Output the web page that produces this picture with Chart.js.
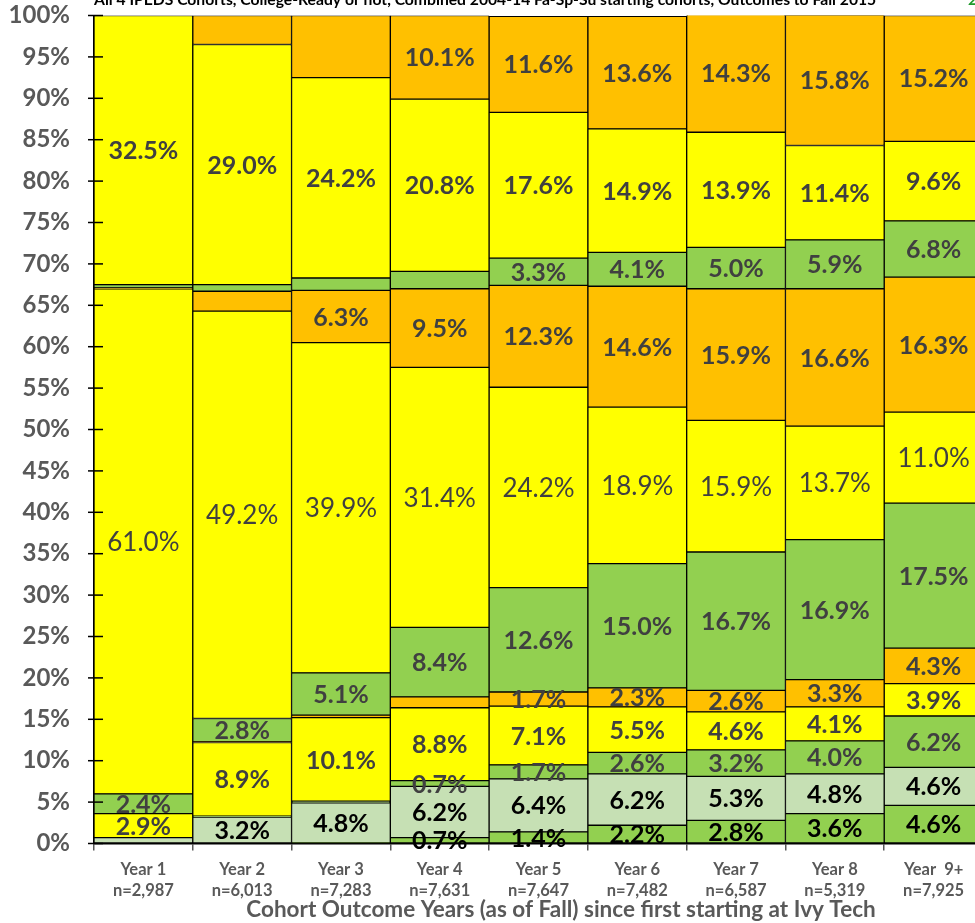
<!DOCTYPE html>
<html>
<head>
<meta charset="utf-8">
<script src="https://cdn.jsdelivr.net/npm/chart.js@4/dist/chart.umd.min.js"></script>
<style>
  html, body { margin: 0; padding: 0; background: #fff; overflow: hidden; }
  canvas { display: block; }
</style>
</head>
<body>
<canvas id="chart" width="990" height="923"></canvas>
<script>
// Cohort years (with cohort sizes) along the x axis
const years = [
  ["Year 1", "n=2,987"], ["Year 2", "n=6,013"], ["Year 3", "n=7,283"],
  ["Year 4", "n=7,631"], ["Year 5", "n=7,647"], ["Year 6", "n=7,482"],
  ["Year 7", "n=6,587"], ["Year 8", "n=5,319"], ["Year  9+", "n=7,925"]
];

// Stack segments, bottom to top (percent of cohort)
const seg01 = [0, 0, 0.1, 0.7, 1.4, 2.2, 2.8, 3.6, 4.6];
const seg02 = [0.7, 3.2, 4.8, 6.2, 6.4, 6.2, 5.3, 4.8, 4.6];
const seg03 = [0, 0.1, 0.2, 0.7, 1.7, 2.6, 3.2, 4.0, 6.2];
const seg04 = [2.9, 8.9, 10.1, 8.8, 7.1, 5.5, 4.6, 4.1, 3.9];
const seg05 = [0, 0.1, 0.3, 1.3, 1.7, 2.3, 2.6, 3.3, 4.3];
const seg06 = [2.4, 2.8, 5.1, 8.4, 12.6, 15.0, 16.7, 16.9, 17.5];
const seg07 = [61.0, 49.2, 39.9, 31.4, 24.2, 18.9, 15.9, 13.7, 11.0];
const seg08 = [0.1, 2.4, 6.3, 9.5, 12.3, 14.6, 15.9, 16.6, 16.3];
const seg09 = [0.4, 0.8, 1.5, 2.1, 3.3, 4.1, 5.0, 5.9, 6.8];
const seg10 = [32.5, 29.0, 24.2, 20.8, 17.6, 14.9, 13.9, 11.4, 9.6];
const seg11 = [0, 3.5, 7.5, 10.1, 11.6, 13.6, 14.3, 15.8, 15.2];

// Year indexes whose segment carries no value label
const quiet01 = [0, 1, 2];
const quiet02 = [0];
const quiet03 = [0, 1, 2];
const quiet04 = [];
const quiet05 = [0, 1, 2, 3];
const quiet06 = [];
const quiet07 = [];
const quiet08 = [0, 1];
const quiet09 = [0, 1, 2, 3];
const quiet10 = [];
const quiet11 = [0, 1, 2];

const yTicks = { min: 0, max: 100, step: 5 };

const FONT = 'Lato, "Open Sans", "DejaVu Sans", sans-serif';
const GREEN = '#92D050', LIGHT = '#C6E0B4', YELLOW = '#FFFF00', ORANGE = '#FFC000';
const GREY = '#404040';

function seg(name, data, color, quiet, labelColor, weight) {
  return {
    label: name, data, backgroundColor: color, borderColor: '#000',
    borderWidth: 1, borderSkipped: false,
    quiet, labelColor, labelWeight: weight
  };
}

const datasets = [
  seg('Segment 1', seg01, GREEN, quiet01, '#000', 'bold'),
  seg('Segment 2', seg02, LIGHT, quiet02, '#000', 'bold'),
  seg('Segment 3', seg03, GREEN, quiet03, GREY, 'bold'),
  seg('Segment 4', seg04, YELLOW, quiet04, GREY, 'bold'),
  seg('Segment 5', seg05, ORANGE, quiet05, GREY, 'bold'),
  seg('Segment 6', seg06, GREEN, quiet06, GREY, 'bold'),
  seg('Segment 7', seg07, YELLOW, quiet07, GREY, 'normal'),
  seg('Segment 8', seg08, ORANGE, quiet08, GREY, 'bold'),
  seg('Segment 9', seg09, GREEN, quiet09, GREY, 'bold'),
  seg('Segment 10', seg10, YELLOW, quiet10, GREY, 'bold'),
  seg('Segment 11', seg11, ORANGE, quiet11, GREY, 'bold')
];

// Value labels centred in each segment
const segmentLabels = {
  id: 'segmentLabels',
  afterDatasetsDraw(chart) {
    const ctx = chart.ctx;
    ctx.save();
    ctx.textAlign = 'center';
    ctx.textBaseline = 'middle';
    chart.data.datasets.forEach((ds, i) => {
      const meta = chart.getDatasetMeta(i);
      ctx.font = ds.labelWeight === 'normal' ? `normal 26px ${FONT}` : `bold 25px ${FONT}`;
      ctx.fillStyle = ds.labelColor;
      meta.data.forEach((bar, j) => {
        if (ds.quiet.includes(j)) return;
        const { x, y, base } = bar.getProps(['x', 'y', 'base'], true);
        ctx.fillText(ds.data[j].toFixed(1) + '%', x, (y + base) / 2 + 1);
      });
    });
    ctx.restore();
  }
};

// Cross-style y tick marks straddling the axis line
const crossTicks = {
  id: 'crossTicks',
  afterDatasetsDraw(chart) {
    const { ctx, chartArea, scales } = chart;
    const y = scales.y;
    ctx.save();
    ctx.strokeStyle = '#000';
    ctx.lineWidth = 1.5;
    y.ticks.forEach(t => {
      const py = y.getPixelForValue(t.value);
      ctx.beginPath();
      ctx.moveTo(chartArea.left - 6, py);
      ctx.lineTo(chartArea.left + 9, py);
      ctx.stroke();
    });
    ctx.restore();
  }
};

// Heading and x axis title
const captions = {
  id: 'captions',
  afterDraw(chart) {
    const ctx = chart.ctx;
    ctx.save();
    ctx.textBaseline = 'alphabetic';
    ctx.textAlign = 'left';
    ctx.fillStyle = '#000';
    ctx.font = `bold 15.7px ${FONT}`;
    ctx.fillText('All 4 IPEDS Cohorts, College-Ready or not, Combined 2004-14 Fa-Sp-Su starting cohorts, Outcomes to Fall 2015', 94, 5);
    ctx.fillStyle = '#1E9A2A';
    ctx.fillText('2', 968, 5);
    ctx.textAlign = 'center';
    ctx.textBaseline = 'middle';
    ctx.fillStyle = '#595959';
    ctx.font = `bold 22.5px ${FONT}`;
    ctx.fillText('Cohort Outcome Years (as of Fall) since first starting at Ivy Tech', 561, 910);
    ctx.restore();
  }
};

new Chart(document.getElementById('chart'), {
  type: 'bar',
  data: { labels: years, datasets },
  options: {
    responsive: false,
    animation: false,
    devicePixelRatio: 1,
    categoryPercentage: 1,
    barPercentage: 1,
    layout: { padding: { top: 15.5, right: 7, bottom: 0, left: 0 } },
    plugins: { legend: { display: false }, tooltip: { enabled: false }, title: { display: false } },
    scales: {
      x: {
        stacked: true,
        grid: { offset: true, drawOnChartArea: false, drawTicks: true, tickLength: 7, color: '#595959', lineWidth: 1.5 },
        border: { display: true, color: '#000', width: 1.5 },
        ticks: {
          color: '#595959', autoSkip: false, maxRotation: 0, padding: 8,
          font: { family: FONT, size: 16.5, weight: 'bold', lineHeight: 1.3 }
        },
        afterFit(scale) { scale.height = 79.5; }
      },
      y: {
        stacked: true,
        min: yTicks.min, max: yTicks.max,
        grid: { drawOnChartArea: false, drawTicks: true, tickLength: 24, color: 'rgba(0,0,0,0)' },
        border: { display: true, color: '#000', width: 2 },
        ticks: {
          stepSize: yTicks.step, color: '#595959', padding: 0,
          font: { family: FONT, size: 24, weight: 'bold' },
          callback: v => v + '%'
        },
        afterFit(scale) { scale.width = 94; }
      }
    }
  },
  plugins: [segmentLabels, crossTicks, captions]
});
</script>
</body>
</html>
